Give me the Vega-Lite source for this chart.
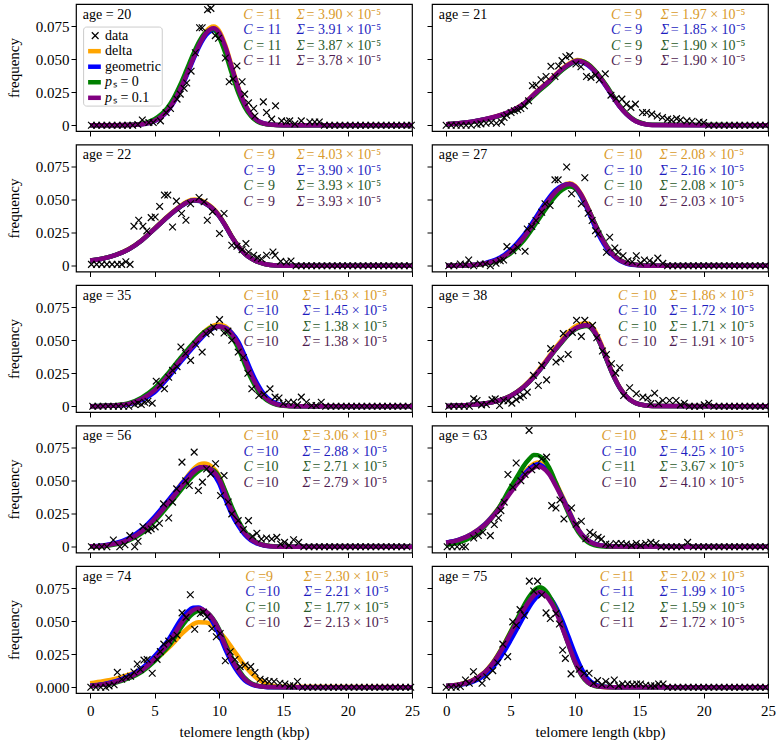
{"$schema":"https://vega.github.io/schema/vega-lite/v6.json","background":"white","padding":{"left":5,"top":1,"right":0,"bottom":0},
"config":{"font":"Liberation Serif","view":{"stroke":"black","strokeWidth":1.2},
"axis":{"grid":false,"domain":false,"tickColor":"black","tickSize":5,"tickWidth":1,"labelFont":"Liberation Serif","labelFontSize":15,"labelColor":"black","titleFont":"Liberation Serif","titleFontSize":15,"titleFontWeight":"normal","titleColor":"black","labelFlush":false,"labelOverlap":false},
"axisX":{"labelPadding":5,"titlePadding":6},"axisY":{"labelPadding":2,"titlePadding":14},
"line":{"strokeWidth":4.5,"interpolate":"monotone"},
"point":{"shape":"M-1,-1L1,1M-1,1L1,-1","size":45,"filled":false,"color":"black","strokeWidth":1.2,"opacity":1},
"text":{"fontSize":14,"align":"left","baseline":"middle","font":"Liberation Serif"}},
"datasets":{
"cv":[
{"p":20,"x":0,"A":0,"B":0,"C":0,"D":0},{"p":20,"x":2,"A":0,"B":0,"C":0,"D":0},{"p":20,"x":3,"A":0.0001,"B":0.0001,"C":0.0002,"D":0.0001},{"p":20,"x":4,"A":0.0007,"B":0.0007,"C":0.0011,"D":0.0007},{"p":20,"x":5,"A":0.0034,"B":0.0032,"C":0.0045,"D":0.0033},{"p":20,"x":6,"A":0.0112,"B":0.0108,"C":0.0131,"D":0.011},{"p":20,"x":6.5,"A":0.0184,"B":0.0176,"C":0.0208,"D":0.018},{"p":20,"x":7,"A":0.0278,"B":0.0268,"C":0.0307,"D":0.0273},{"p":20,"x":7.5,"A":0.0394,"B":0.0378,"C":0.0422,"D":0.0386},{"p":20,"x":8,"A":0.0516,"B":0.0496,"C":0.0539,"D":0.0506},{"p":20,"x":8.5,"A":0.0628,"B":0.0604,"C":0.0641,"D":0.0616},{"p":20,"x":9,"A":0.0712,"B":0.0684,"C":0.0707,"D":0.0698},{"p":20,"x":9.6,"A":0.075,"B":0.072,"C":0.073,"D":0.0735},{"p":20,"x":10,"A":0.0719,"B":0.0691,"C":0.0672,"D":0.0705},{"p":20,"x":10.5,"A":0.0607,"B":0.0583,"C":0.0548,"D":0.0595},{"p":20,"x":11,"A":0.0448,"B":0.043,"C":0.0393,"D":0.0439},{"p":20,"x":11.5,"A":0.0291,"B":0.0279,"C":0.0248,"D":0.0285},{"p":20,"x":12,"A":0.0165,"B":0.0159,"C":0.0138,"D":0.0162},{"p":20,"x":12.5,"A":0.0083,"B":0.0079,"C":0.0067,"D":0.0081},{"p":20,"x":13,"A":0.0036,"B":0.0034,"C":0.0028,"D":0.0035},{"p":20,"x":13.5,"A":0.0013,"B":0.0013,"C":0.001,"D":0.0013},{"p":20,"x":14,"A":0.0005,"B":0.0005,"C":0.0003,"D":0.0005},{"p":20,"x":15,"A":0,"B":0,"C":0,"D":0},{"p":20,"x":25,"A":0,"B":0,"C":0,"D":0},
{"p":21,"x":0,"A":0.0008,"B":0.0008,"C":0.0007,"D":0.0008},{"p":21,"x":1,"A":0.0015,"B":0.0015,"C":0.0014,"D":0.0015},{"p":21,"x":2,"A":0.0027,"B":0.0027,"C":0.0025,"D":0.0027},{"p":21,"x":3,"A":0.0045,"B":0.0045,"C":0.0043,"D":0.0045},{"p":21,"x":4,"A":0.0071,"B":0.0069,"C":0.0067,"D":0.007},{"p":21,"x":5,"A":0.0106,"B":0.0104,"C":0.01,"D":0.0105},{"p":21,"x":6,"A":0.0162,"B":0.0158,"C":0.0152,"D":0.016},{"p":21,"x":7,"A":0.0253,"B":0.0248,"C":0.0241,"D":0.025},{"p":21,"x":8,"A":0.0338,"B":0.0332,"C":0.0326,"D":0.0335},{"p":21,"x":9,"A":0.0429,"B":0.0421,"C":0.0418,"D":0.0425},{"p":21,"x":9.5,"A":0.0465,"B":0.0455,"C":0.0455,"D":0.046},{"p":21,"x":10.2,"A":0.0495,"B":0.0485,"C":0.0489,"D":0.049},{"p":21,"x":10.5,"A":0.049,"B":0.048,"C":0.0487,"D":0.0485},{"p":21,"x":11,"A":0.0465,"B":0.0455,"C":0.0465,"D":0.046},{"p":21,"x":11.5,"A":0.0419,"B":0.0411,"C":0.0421,"D":0.0415},{"p":21,"x":12,"A":0.0359,"B":0.0351,"C":0.0362,"D":0.0355},{"p":21,"x":12.5,"A":0.0288,"B":0.0282,"C":0.0293,"D":0.0285},{"p":21,"x":13,"A":0.0212,"B":0.0208,"C":0.0218,"D":0.021},{"p":21,"x":13.5,"A":0.0141,"B":0.0139,"C":0.0147,"D":0.014},{"p":21,"x":14,"A":0.0086,"B":0.0084,"C":0.009,"D":0.0085},{"p":21,"x":14.5,"A":0.0045,"B":0.0045,"C":0.0049,"D":0.0045},{"p":21,"x":15,"A":0.002,"B":0.002,"C":0.0023,"D":0.002},{"p":21,"x":15.5,"A":0.0007,"B":0.0007,"C":0.0008,"D":0.0007},{"p":21,"x":16,"A":0.0002,"B":0.0002,"C":0.0003,"D":0.0002},{"p":21,"x":25,"A":0,"B":0,"C":0,"D":0},
{"p":22,"x":0,"A":0.004,"B":0.004,"C":0.004,"D":0.004},{"p":22,"x":1,"A":0.0056,"B":0.0055,"C":0.0055,"D":0.0055},{"p":22,"x":2,"A":0.0083,"B":0.0082,"C":0.0082,"D":0.0082},{"p":22,"x":3,"A":0.0127,"B":0.0124,"C":0.0125,"D":0.0125},{"p":22,"x":4,"A":0.0194,"B":0.0191,"C":0.0192,"D":0.0192},{"p":22,"x":5,"A":0.0283,"B":0.0279,"C":0.028,"D":0.028},{"p":22,"x":6,"A":0.0374,"B":0.0368,"C":0.037,"D":0.037},{"p":22,"x":7,"A":0.0453,"B":0.0446,"C":0.0448,"D":0.0448},{"p":22,"x":7.5,"A":0.0486,"B":0.0478,"C":0.048,"D":0.048},{"p":22,"x":8.1,"A":0.0503,"B":0.0495,"C":0.0497,"D":0.0497},{"p":22,"x":8.5,"A":0.0499,"B":0.0491,"C":0.0493,"D":0.0493},{"p":22,"x":9,"A":0.0476,"B":0.0468,"C":0.047,"D":0.047},{"p":22,"x":9.5,"A":0.044,"B":0.0433,"C":0.0435,"D":0.0435},{"p":22,"x":10,"A":0.0385,"B":0.0378,"C":0.038,"D":0.038},{"p":22,"x":10.5,"A":0.0309,"B":0.0303,"C":0.0305,"D":0.0305},{"p":22,"x":11,"A":0.0223,"B":0.0219,"C":0.022,"D":0.022},{"p":22,"x":11.5,"A":0.015,"B":0.0147,"C":0.0148,"D":0.0148},{"p":22,"x":12,"A":0.0093,"B":0.0092,"C":0.0092,"D":0.0092},{"p":22,"x":12.5,"A":0.0056,"B":0.0055,"C":0.0055,"D":0.0055},{"p":22,"x":13,"A":0.003,"B":0.003,"C":0.003,"D":0.003},{"p":22,"x":13.5,"A":0.0015,"B":0.0015,"C":0.0015,"D":0.0015},{"p":22,"x":14,"A":0.0006,"B":0.0006,"C":0.0006,"D":0.0006},{"p":22,"x":15,"A":0,"B":0,"C":0,"D":0},{"p":22,"x":25,"A":0,"B":0,"C":0,"D":0},
{"p":27,"x":0,"A":0,"B":0,"C":0,"D":0},{"p":27,"x":1,"A":0.0001,"B":0.0001,"C":0.0001,"D":0.0001},{"p":27,"x":2,"A":0.0005,"B":0.0006,"C":0.0004,"D":0.0005},{"p":27,"x":3,"A":0.0017,"B":0.002,"C":0.0014,"D":0.0017},{"p":27,"x":4,"A":0.0045,"B":0.0052,"C":0.0039,"D":0.0045},{"p":27,"x":5,"A":0.0107,"B":0.012,"C":0.0093,"D":0.0106},{"p":27,"x":6,"A":0.0213,"B":0.0228,"C":0.0189,"D":0.0211},{"p":27,"x":7,"A":0.0356,"B":0.0372,"C":0.0326,"D":0.0353},{"p":27,"x":7.5,"A":0.0433,"B":0.0449,"C":0.0399,"D":0.043},{"p":27,"x":8,"A":0.0505,"B":0.0517,"C":0.0468,"D":0.0501},{"p":27,"x":8.5,"A":0.0564,"B":0.0573,"C":0.053,"D":0.056},{"p":27,"x":9,"A":0.0606,"B":0.0607,"C":0.0575,"D":0.0601},{"p":27,"x":9.6,"A":0.0625,"B":0.062,"C":0.0601,"D":0.062},{"p":27,"x":10,"A":0.0608,"B":0.0594,"C":0.0588,"D":0.0603},{"p":27,"x":10.5,"A":0.0541,"B":0.0522,"C":0.0532,"D":0.0537},{"p":27,"x":11,"A":0.0442,"B":0.0421,"C":0.0439,"D":0.0438},{"p":27,"x":11.5,"A":0.033,"B":0.0309,"C":0.0333,"D":0.0327},{"p":27,"x":12,"A":0.0225,"B":0.0207,"C":0.0231,"D":0.0223},{"p":27,"x":12.5,"A":0.0141,"B":0.0128,"C":0.0146,"D":0.014},{"p":27,"x":13,"A":0.0081,"B":0.0072,"C":0.0085,"D":0.008},{"p":27,"x":13.5,"A":0.0042,"B":0.0037,"C":0.0045,"D":0.0042},{"p":27,"x":14,"A":0.002,"B":0.0017,"C":0.0022,"D":0.002},{"p":27,"x":15,"A":0.0004,"B":0.0003,"C":0.0005,"D":0.0004},{"p":27,"x":16,"A":0,"B":0,"C":0,"D":0},{"p":27,"x":25,"A":0,"B":0,"C":0,"D":0},
{"p":35,"x":0,"A":0,"B":0,"C":0,"D":0},{"p":35,"x":1,"A":0.0002,"B":0.0002,"C":0.0003,"D":0.0002},{"p":35,"x":2,"A":0.0006,"B":0.0005,"C":0.0008,"D":0.0006},{"p":35,"x":3,"A":0.0018,"B":0.0015,"C":0.0023,"D":0.0018},{"p":35,"x":4,"A":0.0056,"B":0.0047,"C":0.0065,"D":0.0055},{"p":35,"x":5,"A":0.0123,"B":0.0106,"C":0.0137,"D":0.012},{"p":35,"x":6,"A":0.0231,"B":0.021,"C":0.0243,"D":0.0225},{"p":35,"x":7,"A":0.0356,"B":0.0333,"C":0.0365,"D":0.0347},{"p":35,"x":7.5,"A":0.0415,"B":0.0391,"C":0.0422,"D":0.0405},{"p":35,"x":8,"A":0.0472,"B":0.0447,"C":0.0477,"D":0.046},{"p":35,"x":8.5,"A":0.0528,"B":0.0503,"C":0.0531,"D":0.0515},{"p":35,"x":9,"A":0.0576,"B":0.0553,"C":0.0572,"D":0.0562},{"p":35,"x":9.5,"A":0.0609,"B":0.0589,"C":0.0599,"D":0.0594},{"p":35,"x":10,"A":0.062,"B":0.0604,"C":0.0603,"D":0.0605},{"p":35,"x":10.5,"A":0.0605,"B":0.0595,"C":0.0582,"D":0.059},{"p":35,"x":11,"A":0.0559,"B":0.0556,"C":0.0527,"D":0.0545},{"p":35,"x":11.5,"A":0.0482,"B":0.0491,"C":0.0441,"D":0.047},{"p":35,"x":12,"A":0.0364,"B":0.0384,"C":0.0322,"D":0.0355},{"p":35,"x":12.5,"A":0.0246,"B":0.0268,"C":0.0212,"D":0.024},{"p":35,"x":13,"A":0.0149,"B":0.0168,"C":0.0124,"D":0.0145},{"p":35,"x":13.5,"A":0.0077,"B":0.0091,"C":0.0063,"D":0.0075},{"p":35,"x":14,"A":0.0036,"B":0.0044,"C":0.0029,"D":0.0035},{"p":35,"x":14.5,"A":0.0014,"B":0.0019,"C":0.0011,"D":0.0014},{"p":35,"x":15,"A":0.0005,"B":0.0007,"C":0.0004,"D":0.0005},{"p":35,"x":16,"A":0,"B":0,"C":0,"D":0},{"p":35,"x":25,"A":0,"B":0,"C":0,"D":0},
{"p":38,"x":0,"A":0.0002,"B":0.0002,"C":0.0002,"D":0.0002},{"p":38,"x":1,"A":0.0006,"B":0.0006,"C":0.0006,"D":0.0006},{"p":38,"x":2,"A":0.0012,"B":0.0012,"C":0.0012,"D":0.0012},{"p":38,"x":3,"A":0.0021,"B":0.002,"C":0.002,"D":0.002},{"p":38,"x":4,"A":0.0041,"B":0.004,"C":0.004,"D":0.004},{"p":38,"x":5,"A":0.008,"B":0.0078,"C":0.0077,"D":0.0078},{"p":38,"x":6,"A":0.0149,"B":0.0144,"C":0.0144,"D":0.0145},{"p":38,"x":7,"A":0.0251,"B":0.0244,"C":0.0243,"D":0.0245},{"p":38,"x":7.5,"A":0.0313,"B":0.0303,"C":0.0302,"D":0.0305},{"p":38,"x":8,"A":0.0379,"B":0.0368,"C":0.0366,"D":0.037},{"p":38,"x":8.5,"A":0.0444,"B":0.0431,"C":0.0429,"D":0.0433},{"p":38,"x":9,"A":0.0505,"B":0.0491,"C":0.0488,"D":0.0493},{"p":38,"x":9.5,"A":0.0562,"B":0.0545,"C":0.0543,"D":0.0548},{"p":38,"x":10,"A":0.0603,"B":0.0585,"C":0.0582,"D":0.0588},{"p":38,"x":10.5,"A":0.0624,"B":0.0606,"C":0.0603,"D":0.0609},{"p":38,"x":10.9,"A":0.063,"B":0.0612,"C":0.0609,"D":0.0615},{"p":38,"x":11.5,"A":0.0582,"B":0.0565,"C":0.0562,"D":0.0568},{"p":38,"x":12,"A":0.0483,"B":0.0469,"C":0.0466,"D":0.0471},{"p":38,"x":12.5,"A":0.0356,"B":0.0345,"C":0.0344,"D":0.0347},{"p":38,"x":13,"A":0.0236,"B":0.0229,"C":0.0228,"D":0.023},{"p":38,"x":13.5,"A":0.014,"B":0.0136,"C":0.0136,"D":0.0137},{"p":38,"x":14,"A":0.0075,"B":0.0073,"C":0.0072,"D":0.0073},{"p":38,"x":14.5,"A":0.0036,"B":0.0035,"C":0.0035,"D":0.0035},{"p":38,"x":15,"A":0.0015,"B":0.0015,"C":0.0015,"D":0.0015},{"p":38,"x":16,"A":0.0002,"B":0.0002,"C":0.0002,"D":0.0002},{"p":38,"x":25,"A":0,"B":0,"C":0,"D":0},
{"p":56,"x":0,"A":0.0003,"B":0.0003,"C":0.0002,"D":0.0003},{"p":56,"x":1,"A":0.0008,"B":0.001,"C":0.0006,"D":0.0008},{"p":56,"x":2,"A":0.0024,"B":0.0028,"C":0.0019,"D":0.0023},{"p":56,"x":3,"A":0.0057,"B":0.0064,"C":0.0047,"D":0.0055},{"p":56,"x":4,"A":0.012,"B":0.013,"C":0.0102,"D":0.0115},{"p":56,"x":5,"A":0.0219,"B":0.0228,"C":0.0193,"D":0.021},{"p":56,"x":6,"A":0.034,"B":0.0343,"C":0.0305,"D":0.0325},{"p":56,"x":6.5,"A":0.0402,"B":0.0404,"C":0.0364,"D":0.0385},{"p":56,"x":7,"A":0.0467,"B":0.0464,"C":0.0425,"D":0.0447},{"p":56,"x":7.5,"A":0.0528,"B":0.0522,"C":0.0483,"D":0.0505},{"p":56,"x":8,"A":0.0587,"B":0.0574,"C":0.0539,"D":0.0562},{"p":56,"x":8.5,"A":0.0625,"B":0.0602,"C":0.058,"D":0.0598},{"p":56,"x":8.85,"A":0.0632,"B":0.0604,"C":0.0598,"D":0.0605},{"p":56,"x":9.5,"A":0.0604,"B":0.0563,"C":0.0584,"D":0.0578},{"p":56,"x":10,"A":0.0538,"B":0.0485,"C":0.0532,"D":0.0515},{"p":56,"x":10.5,"A":0.0413,"B":0.0362,"C":0.0422,"D":0.0395},{"p":56,"x":11,"A":0.0287,"B":0.0247,"C":0.0302,"D":0.0275},{"p":56,"x":11.5,"A":0.0188,"B":0.016,"C":0.0198,"D":0.018},{"p":56,"x":12,"A":0.011,"B":0.0092,"C":0.0118,"D":0.0105},{"p":56,"x":12.5,"A":0.0057,"B":0.0047,"C":0.0062,"D":0.0055},{"p":56,"x":13,"A":0.0028,"B":0.0023,"C":0.0031,"D":0.0027},{"p":56,"x":13.5,"A":0.0011,"B":0.0009,"C":0.0013,"D":0.0011},{"p":56,"x":14,"A":0.0004,"B":0.0003,"C":0.0005,"D":0.0004},{"p":56,"x":15,"A":0,"B":0,"C":0,"D":0},{"p":56,"x":25,"A":0,"B":0,"C":0,"D":0},
{"p":63,"x":0,"A":0.003,"B":0.0031,"C":0.0015,"D":0.003},{"p":63,"x":1,"A":0.0054,"B":0.0053,"C":0.0033,"D":0.0052},{"p":63,"x":2,"A":0.0099,"B":0.0097,"C":0.0075,"D":0.0095},{"p":63,"x":3,"A":0.0172,"B":0.0169,"C":0.0155,"D":0.0165},{"p":63,"x":4,"A":0.0284,"B":0.0279,"C":0.028,"D":0.0272},{"p":63,"x":5,"A":0.0429,"B":0.042,"C":0.045,"D":0.041},{"p":63,"x":5.5,"A":0.0497,"B":0.0487,"C":0.053,"D":0.0475},{"p":63,"x":6,"A":0.0555,"B":0.0543,"C":0.061,"D":0.053},{"p":63,"x":6.5,"A":0.0606,"B":0.0594,"C":0.067,"D":0.0578},{"p":63,"x":6.8,"A":0.0628,"B":0.0615,"C":0.0697,"D":0.06},{"p":63,"x":7.1,"A":0.064,"B":0.0625,"C":0.0695,"D":0.061},{"p":63,"x":7.5,"A":0.0626,"B":0.061,"C":0.067,"D":0.0598},{"p":63,"x":8,"A":0.0575,"B":0.0559,"C":0.06,"D":0.055},{"p":63,"x":8.5,"A":0.0489,"B":0.0477,"C":0.049,"D":0.0465},{"p":63,"x":9,"A":0.0389,"B":0.0379,"C":0.037,"D":0.037},{"p":63,"x":9.5,"A":0.0284,"B":0.0277,"C":0.0255,"D":0.027},{"p":63,"x":10,"A":0.0179,"B":0.0174,"C":0.0155,"D":0.017},{"p":63,"x":10.5,"A":0.01,"B":0.0097,"C":0.008,"D":0.0095},{"p":63,"x":11,"A":0.005,"B":0.0049,"C":0.0035,"D":0.0048},{"p":63,"x":11.5,"A":0.0023,"B":0.0023,"C":0.0013,"D":0.0022},{"p":63,"x":12,"A":0.001,"B":0.001,"C":0.0004,"D":0.001},{"p":63,"x":13,"A":0.0001,"B":0.0001,"C":0,"D":0.0001},{"p":63,"x":25,"A":0,"B":0,"C":0,"D":0},
{"p":74,"x":0,"A":0.003,"B":0.0012,"C":0.0009,"D":0.001},{"p":74,"x":1,"A":0.0045,"B":0.0023,"C":0.0018,"D":0.002},{"p":74,"x":2,"A":0.0065,"B":0.0046,"C":0.0036,"D":0.004},{"p":74,"x":3,"A":0.0095,"B":0.0084,"C":0.0068,"D":0.0075},{"p":74,"x":4,"A":0.0135,"B":0.0142,"C":0.0117,"D":0.0128},{"p":74,"x":5,"A":0.0205,"B":0.0235,"C":0.0198,"D":0.0215},{"p":74,"x":5.5,"A":0.0245,"B":0.0291,"C":0.0249,"D":0.0268},{"p":74,"x":6,"A":0.029,"B":0.0348,"C":0.03,"D":0.0322},{"p":74,"x":6.5,"A":0.034,"B":0.0427,"C":0.0368,"D":0.0395},{"p":74,"x":7,"A":0.0395,"B":0.0508,"C":0.0446,"D":0.0475},{"p":74,"x":7.5,"A":0.044,"B":0.0567,"C":0.0512,"D":0.054},{"p":74,"x":8,"A":0.0478,"B":0.0603,"C":0.0561,"D":0.0585},{"p":74,"x":8.4,"A":0.0493,"B":0.0605,"C":0.0579,"D":0.0597},{"p":74,"x":9,"A":0.0492,"B":0.0566,"C":0.0569,"D":0.0575},{"p":74,"x":9.5,"A":0.047,"B":0.0499,"C":0.0524,"D":0.0522},{"p":74,"x":10,"A":0.0425,"B":0.0404,"C":0.0442,"D":0.0435},{"p":74,"x":10.5,"A":0.0368,"B":0.0288,"C":0.0328,"D":0.0315},{"p":74,"x":11,"A":0.03,"B":0.0188,"C":0.0224,"D":0.021},{"p":74,"x":11.5,"A":0.0232,"B":0.0111,"C":0.0139,"D":0.0128},{"p":74,"x":12,"A":0.0163,"B":0.0053,"C":0.0071,"D":0.0063},{"p":74,"x":12.5,"A":0.0108,"B":0.0022,"C":0.0031,"D":0.0027},{"p":74,"x":13,"A":0.0065,"B":0.0008,"C":0.0012,"D":0.001},{"p":74,"x":13.5,"A":0.0035,"B":0.0003,"C":0.0005,"D":0.0004},{"p":74,"x":14,"A":0.0016,"B":0,"C":0.0001,"D":0.0001},{"p":74,"x":15,"A":0.0003,"B":0,"C":0,"D":0},{"p":74,"x":25,"A":0,"B":0,"C":0,"D":0},
{"p":75,"x":0,"A":0.001,"B":0.0009,"C":0.001,"D":0.001},{"p":75,"x":1,"A":0.0021,"B":0.0017,"C":0.002,"D":0.002},{"p":75,"x":2,"A":0.005,"B":0.0038,"C":0.0048,"D":0.0048},{"p":75,"x":3,"A":0.0116,"B":0.0093,"C":0.0112,"D":0.0112},{"p":75,"x":3.5,"A":0.0171,"B":0.014,"C":0.0167,"D":0.0165},{"p":75,"x":4,"A":0.0243,"B":0.0196,"C":0.024,"D":0.0235},{"p":75,"x":4.5,"A":0.0326,"B":0.0271,"C":0.0324,"D":0.0315},{"p":75,"x":5,"A":0.0419,"B":0.0355,"C":0.0418,"D":0.0405},{"p":75,"x":5.5,"A":0.0512,"B":0.0443,"C":0.0515,"D":0.0495},{"p":75,"x":6,"A":0.0605,"B":0.0532,"C":0.0612,"D":0.0585},{"p":75,"x":6.5,"A":0.0683,"B":0.0617,"C":0.0693,"D":0.066},{"p":75,"x":7,"A":0.0737,"B":0.0682,"C":0.0748,"D":0.0712},{"p":75,"x":7.25,"A":0.0747,"B":0.0703,"C":0.0759,"D":0.0722},{"p":75,"x":7.5,"A":0.074,"B":0.0711,"C":0.0751,"D":0.0715},{"p":75,"x":8,"A":0.0688,"B":0.0685,"C":0.0695,"D":0.0665},{"p":75,"x":8.5,"A":0.06,"B":0.0614,"C":0.0598,"D":0.058},{"p":75,"x":9,"A":0.0471,"B":0.0509,"C":0.0462,"D":0.0455},{"p":75,"x":9.5,"A":0.0336,"B":0.0384,"C":0.0325,"D":0.0325},{"p":75,"x":10,"A":0.0202,"B":0.0256,"C":0.019,"D":0.0195},{"p":75,"x":10.5,"A":0.0101,"B":0.0144,"C":0.0093,"D":0.0098},{"p":75,"x":11,"A":0.0039,"B":0.0064,"C":0.0035,"D":0.0038},{"p":75,"x":11.5,"A":0.0013,"B":0.0025,"C":0.0011,"D":0.0013},{"p":75,"x":12,"A":0.0004,"B":0.0008,"C":0.0003,"D":0.0004},{"p":75,"x":13,"A":0,"B":0,"C":0,"D":0},{"p":75,"x":25,"A":0,"B":0,"C":0,"D":0}
],
"pt":[
{"p":20,"x":0.1,"y":0},{"p":20,"x":0.5,"y":0},{"p":20,"x":0.9,"y":0},{"p":20,"x":1.3,"y":0},{"p":20,"x":1.7,"y":0},{"p":20,"x":2.1,"y":0},{"p":20,"x":2.5,"y":0},{"p":20,"x":2.9,"y":0},{"p":20,"x":3.3,"y":0},{"p":20,"x":3.7,"y":0.0005},{"p":20,"x":4.05,"y":0.004},{"p":20,"x":4.56,"y":0.002},{"p":20,"x":4.9,"y":0.002},{"p":20,"x":5.46,"y":0.0033},{"p":20,"x":5.9,"y":0.0096},{"p":20,"x":6.24,"y":0.0127},{"p":20,"x":6.75,"y":0.0198},{"p":20,"x":7,"y":0.0236},{"p":20,"x":7.3,"y":0.028},{"p":20,"x":7.5,"y":0.032},{"p":20,"x":7.84,"y":0.041},{"p":20,"x":8.17,"y":0.055},{"p":20,"x":8.5,"y":0.074},{"p":20,"x":8.7,"y":0.074},{"p":20,"x":9.12,"y":0.0877},{"p":20,"x":9.38,"y":0.0887},{"p":20,"x":9.72,"y":0.068},{"p":20,"x":9.97,"y":0.066},{"p":20,"x":10.5,"y":0.051},{"p":20,"x":10.8,"y":0.033},{"p":20,"x":11.1,"y":0.035},{"p":20,"x":11.4,"y":0.045},{"p":20,"x":11.8,"y":0.033},{"p":20,"x":12,"y":0.0236},{"p":20,"x":12.3,"y":0.017},{"p":20,"x":12.7,"y":0.0127},{"p":20,"x":12.8,"y":0.007},{"p":20,"x":13.45,"y":0.0177},{"p":20,"x":13.7,"y":0.0096},{"p":20,"x":14.1,"y":0.0046},{"p":20,"x":14.4,"y":0.0147},{"p":20,"x":14.87,"y":0.0033},{"p":20,"x":15.26,"y":0.0028},{"p":20,"x":15.5,"y":0.0033},{"p":20,"x":15.9,"y":0.001},{"p":20,"x":16.4,"y":0.0033},{"p":20,"x":17.06,"y":0.0025},{"p":20,"x":17.45,"y":0.0025},{"p":20,"x":17.8,"y":0.0025},{"p":20,"x":18.2,"y":0},{"p":20,"x":18.6,"y":0},{"p":20,"x":19,"y":0},{"p":20,"x":19.4,"y":0},{"p":20,"x":19.8,"y":0},{"p":20,"x":20.2,"y":0},{"p":20,"x":20.6,"y":0},{"p":20,"x":21,"y":0},{"p":20,"x":21.4,"y":0},{"p":20,"x":21.8,"y":0},{"p":20,"x":22.2,"y":0},{"p":20,"x":22.6,"y":0},{"p":20,"x":23,"y":0},{"p":20,"x":23.4,"y":0},{"p":20,"x":23.8,"y":0},{"p":20,"x":24.2,"y":0},{"p":20,"x":24.6,"y":0},{"p":20,"x":24.95,"y":0},{"p":20,"x":0.39,"y":0.068},
{"p":21,"x":0,"y":0},{"p":21,"x":0.39,"y":0},{"p":21,"x":0.78,"y":0},{"p":21,"x":1.16,"y":0},{"p":21,"x":1.55,"y":0},{"p":21,"x":1.94,"y":0},{"p":21,"x":2.4,"y":0.0005},{"p":21,"x":2.7,"y":0.001},{"p":21,"x":3.1,"y":0.0015},{"p":21,"x":3.5,"y":0.002},{"p":21,"x":3.9,"y":0.0015},{"p":21,"x":4.3,"y":0.0025},{"p":21,"x":4.5,"y":0.0058},{"p":21,"x":4.7,"y":0.0076},{"p":21,"x":5.04,"y":0.0096},{"p":21,"x":5.3,"y":0.011},{"p":21,"x":5.56,"y":0.0117},{"p":21,"x":5.8,"y":0.0127},{"p":21,"x":6.08,"y":0.0147},{"p":21,"x":6.4,"y":0.0185},{"p":21,"x":6.7,"y":0.03},{"p":21,"x":6.98,"y":0.0305},{"p":21,"x":7.37,"y":0.0345},{"p":21,"x":7.76,"y":0.037},{"p":21,"x":8.14,"y":0.0447},{"p":21,"x":8.45,"y":0.037},{"p":21,"x":8.74,"y":0.045},{"p":21,"x":9,"y":0.049},{"p":21,"x":9.3,"y":0.052},{"p":21,"x":9.6,"y":0.0528},{"p":21,"x":10.08,"y":0.0464},{"p":21,"x":10.47,"y":0.0444},{"p":21,"x":10.9,"y":0.037},{"p":21,"x":11.25,"y":0.0363},{"p":21,"x":11.6,"y":0.038},{"p":21,"x":11.9,"y":0.0345},{"p":21,"x":12.36,"y":0.039},{"p":21,"x":12.8,"y":0.0228},{"p":21,"x":13.2,"y":0.0203},{"p":21,"x":13.65,"y":0.0198},{"p":21,"x":14,"y":0.016},{"p":21,"x":14.35,"y":0.0135},{"p":21,"x":14.7,"y":0.016},{"p":21,"x":15.25,"y":0.0096},{"p":21,"x":15.56,"y":0.0096},{"p":21,"x":15.97,"y":0.0084},{"p":21,"x":16.4,"y":0.007},{"p":21,"x":16.8,"y":0.0058},{"p":21,"x":17.2,"y":0.0046},{"p":21,"x":17.5,"y":0.004},{"p":21,"x":17.9,"y":0.005},{"p":21,"x":18.2,"y":0.004},{"p":21,"x":18.7,"y":0.0033},{"p":21,"x":19.1,"y":0.003},{"p":21,"x":19.65,"y":0.0025},{"p":21,"x":20,"y":0.002},{"p":21,"x":20.4,"y":0},{"p":21,"x":20.8,"y":0},{"p":21,"x":21.2,"y":0},{"p":21,"x":21.6,"y":0},{"p":21,"x":22,"y":0},{"p":21,"x":22.4,"y":0},{"p":21,"x":22.8,"y":0},{"p":21,"x":23.2,"y":0},{"p":21,"x":23.6,"y":0},{"p":21,"x":24,"y":0},{"p":21,"x":24.4,"y":0},{"p":21,"x":24.8,"y":0},
{"p":22,"x":0.1,"y":0.001},{"p":22,"x":0.5,"y":0.001},{"p":22,"x":0.9,"y":0.001},{"p":22,"x":1.3,"y":0.001},{"p":22,"x":1.7,"y":0.001},{"p":22,"x":2.1,"y":0.001},{"p":22,"x":2.45,"y":0.001},{"p":22,"x":2.77,"y":0.003},{"p":22,"x":3.1,"y":0.001},{"p":22,"x":3.4,"y":0.03},{"p":22,"x":3.77,"y":0.0345},{"p":22,"x":4.1,"y":0.03},{"p":22,"x":4.4,"y":0.0264},{"p":22,"x":4.74,"y":0.0365},{"p":22,"x":5.05,"y":0.037},{"p":22,"x":5.4,"y":0.045},{"p":22,"x":5.77,"y":0.0536},{"p":22,"x":6.03,"y":0.0536},{"p":22,"x":6.4,"y":0.0294},{"p":22,"x":6.7,"y":0.049},{"p":22,"x":7.1,"y":0.0396},{"p":22,"x":7.44,"y":0.0345},{"p":22,"x":7.8,"y":0.047},{"p":22,"x":8.46,"y":0.0518},{"p":22,"x":8.85,"y":0.0485},{"p":22,"x":9.1,"y":0.0345},{"p":22,"x":9.5,"y":0.041},{"p":22,"x":10.05,"y":0.0244},{"p":22,"x":10.4,"y":0.0396},{"p":22,"x":11,"y":0.0155},{"p":22,"x":11.4,"y":0.0147},{"p":22,"x":11.8,"y":0.0122},{"p":22,"x":12.1,"y":0.0168},{"p":22,"x":12.3,"y":0.0104},{"p":22,"x":12.7,"y":0.0079},{"p":22,"x":13,"y":0.0061},{"p":22,"x":13.3,"y":0.0053},{"p":22,"x":13.7,"y":0.0079},{"p":22,"x":14.2,"y":0.0104},{"p":22,"x":14.36,"y":0.0079},{"p":22,"x":14.8,"y":0.0033},{"p":22,"x":15.25,"y":0.0028},{"p":22,"x":15.6,"y":0.0036},{"p":22,"x":16,"y":0},{"p":22,"x":16.4,"y":0},{"p":22,"x":16.8,"y":0},{"p":22,"x":17.2,"y":0},{"p":22,"x":17.6,"y":0},{"p":22,"x":18,"y":0},{"p":22,"x":18.4,"y":0},{"p":22,"x":18.8,"y":0},{"p":22,"x":19.2,"y":0},{"p":22,"x":19.6,"y":0},{"p":22,"x":20,"y":0},{"p":22,"x":20.4,"y":0},{"p":22,"x":20.8,"y":0},{"p":22,"x":21.2,"y":0},{"p":22,"x":21.6,"y":0},{"p":22,"x":22,"y":0},{"p":22,"x":22.4,"y":0},{"p":22,"x":22.8,"y":0},{"p":22,"x":23.2,"y":0},{"p":22,"x":23.6,"y":0},{"p":22,"x":24,"y":0},{"p":22,"x":24.4,"y":0},{"p":22,"x":24.8,"y":0},
{"p":27,"x":0.2,"y":0},{"p":27,"x":0.6,"y":0},{"p":27,"x":1.1,"y":0.0013},{"p":27,"x":1.5,"y":0.0008},{"p":27,"x":1.75,"y":0.0043},{"p":27,"x":2.14,"y":0},{"p":27,"x":2.65,"y":0.0013},{"p":27,"x":3.04,"y":0.0013},{"p":27,"x":3.43,"y":0},{"p":27,"x":3.87,"y":0.0018},{"p":27,"x":4.2,"y":0.0038},{"p":27,"x":4.46,"y":0.0043},{"p":27,"x":4.72,"y":0.0145},{"p":27,"x":5.18,"y":0.0114},{"p":27,"x":5.54,"y":0.014},{"p":27,"x":6.13,"y":0.0109},{"p":27,"x":6.3,"y":0.0279},{"p":27,"x":6.65,"y":0.0297},{"p":27,"x":6.98,"y":0.0343},{"p":27,"x":7.42,"y":0.0406},{"p":27,"x":7.68,"y":0.047},{"p":27,"x":8.07,"y":0.0457},{"p":27,"x":8.45,"y":0.0652},{"p":27,"x":8.7,"y":0.0652},{"p":27,"x":9.36,"y":0.0749},{"p":27,"x":9.74,"y":0.0546},{"p":27,"x":10.5,"y":0.047},{"p":27,"x":10.77,"y":0.0668},{"p":27,"x":11.03,"y":0.0398},{"p":27,"x":11.34,"y":0.0343},{"p":27,"x":11.6,"y":0.0266},{"p":27,"x":11.8,"y":0.0241},{"p":27,"x":12.45,"y":0.0102},{"p":27,"x":12.7,"y":0.0216},{"p":27,"x":13.1,"y":0.0135},{"p":27,"x":13.35,"y":0.0102},{"p":27,"x":13.74,"y":0.0076},{"p":27,"x":14.12,"y":0.0038},{"p":27,"x":14.45,"y":0.003},{"p":27,"x":14.77,"y":0.0076},{"p":27,"x":15.1,"y":0.002},{"p":27,"x":15.4,"y":0.0043},{"p":27,"x":15.8,"y":0.0038},{"p":27,"x":16.1,"y":0.002},{"p":27,"x":16.44,"y":0.0058},{"p":27,"x":16.83,"y":0.0018},{"p":27,"x":17.2,"y":0},{"p":27,"x":17.6,"y":0},{"p":27,"x":18,"y":0},{"p":27,"x":18.4,"y":0},{"p":27,"x":18.8,"y":0},{"p":27,"x":19.2,"y":0},{"p":27,"x":19.6,"y":0},{"p":27,"x":20,"y":0},{"p":27,"x":20.4,"y":0},{"p":27,"x":20.8,"y":0},{"p":27,"x":21.2,"y":0},{"p":27,"x":21.6,"y":0},{"p":27,"x":22,"y":0},{"p":27,"x":22.4,"y":0},{"p":27,"x":22.8,"y":0},{"p":27,"x":23.2,"y":0},{"p":27,"x":23.6,"y":0},{"p":27,"x":24,"y":0},{"p":27,"x":24.4,"y":0},{"p":27,"x":24.8,"y":0},
{"p":35,"x":0.2,"y":0},{"p":35,"x":0.6,"y":0},{"p":35,"x":1,"y":0},{"p":35,"x":1.4,"y":0},{"p":35,"x":1.8,"y":0},{"p":35,"x":2.2,"y":0},{"p":35,"x":2.6,"y":0},{"p":35,"x":3,"y":0},{"p":35,"x":3.46,"y":0.0013},{"p":35,"x":3.72,"y":0.0023},{"p":35,"x":3.97,"y":0.0013},{"p":35,"x":4.23,"y":0.003},{"p":35,"x":4.49,"y":0.0038},{"p":35,"x":4.82,"y":0.0023},{"p":35,"x":5.13,"y":0.019},{"p":35,"x":5.45,"y":0.016},{"p":35,"x":5.77,"y":0.0132},{"p":35,"x":6.1,"y":0.022},{"p":35,"x":6.4,"y":0.0272},{"p":35,"x":6.75,"y":0.03},{"p":35,"x":7.05,"y":0.045},{"p":35,"x":7.42,"y":0.04},{"p":35,"x":7.8,"y":0.0348},{"p":35,"x":8.2,"y":0.047},{"p":35,"x":8.7,"y":0.0411},{"p":35,"x":9,"y":0.055},{"p":35,"x":9.36,"y":0.0563},{"p":35,"x":9.6,"y":0.06},{"p":35,"x":10.05,"y":0.0657},{"p":35,"x":10.4,"y":0.0556},{"p":35,"x":10.7,"y":0.057},{"p":35,"x":11,"y":0.05},{"p":35,"x":11.5,"y":0.0411},{"p":35,"x":11.9,"y":0.037},{"p":35,"x":12.25,"y":0.025},{"p":35,"x":12.56,"y":0.0132},{"p":35,"x":13.1,"y":0.0081},{"p":35,"x":13.5,"y":0.009},{"p":35,"x":13.97,"y":0.0132},{"p":35,"x":14.36,"y":0.0069},{"p":35,"x":14.67,"y":0.0063},{"p":35,"x":15,"y":0.002},{"p":35,"x":15.4,"y":0.003},{"p":35,"x":15.8,"y":0.003},{"p":35,"x":16.1,"y":0.001},{"p":35,"x":16.4,"y":0.0069},{"p":35,"x":16.8,"y":0.003},{"p":35,"x":17.2,"y":0.0005},{"p":35,"x":17.55,"y":0.0005},{"p":35,"x":17.95,"y":0.003},{"p":35,"x":18.3,"y":0},{"p":35,"x":18.7,"y":0},{"p":35,"x":19.1,"y":0},{"p":35,"x":19.5,"y":0},{"p":35,"x":19.9,"y":0},{"p":35,"x":20.3,"y":0},{"p":35,"x":20.7,"y":0},{"p":35,"x":21.1,"y":0},{"p":35,"x":21.5,"y":0},{"p":35,"x":21.9,"y":0},{"p":35,"x":22.3,"y":0},{"p":35,"x":22.7,"y":0},{"p":35,"x":23.1,"y":0},{"p":35,"x":23.5,"y":0},{"p":35,"x":23.9,"y":0},{"p":35,"x":24.3,"y":0},{"p":35,"x":24.7,"y":0},
{"p":38,"x":0.2,"y":0},{"p":38,"x":0.6,"y":0},{"p":38,"x":1,"y":0},{"p":38,"x":1.4,"y":0},{"p":38,"x":1.8,"y":0},{"p":38,"x":2.14,"y":0.0056},{"p":38,"x":2.4,"y":0.0043},{"p":38,"x":2.75,"y":0.001},{"p":38,"x":3.12,"y":0.0013},{"p":38,"x":3.56,"y":0.0048},{"p":38,"x":3.81,"y":0.0056},{"p":38,"x":4.15,"y":0.0005},{"p":38,"x":4.46,"y":0.0043},{"p":38,"x":4.8,"y":0.004},{"p":38,"x":5.1,"y":0.0023},{"p":38,"x":5.45,"y":0.005},{"p":38,"x":5.75,"y":0.0069},{"p":38,"x":6,"y":0.0081},{"p":38,"x":6.3,"y":0.0107},{"p":38,"x":6.78,"y":0.0234},{"p":38,"x":7.16,"y":0.0157},{"p":38,"x":7.42,"y":0.031},{"p":38,"x":7.8,"y":0.02},{"p":38,"x":8.12,"y":0.0437},{"p":38,"x":8.53,"y":0.0335},{"p":38,"x":8.9,"y":0.036},{"p":38,"x":9.1,"y":0.0551},{"p":38,"x":9.48,"y":0.0393},{"p":38,"x":9.8,"y":0.056},{"p":38,"x":10.13,"y":0.0652},{"p":38,"x":10.5,"y":0.053},{"p":38,"x":10.77,"y":0.0652},{"p":38,"x":11.37,"y":0.0614},{"p":38,"x":11.7,"y":0.052},{"p":38,"x":12.14,"y":0.0419},{"p":38,"x":12.45,"y":0.0393},{"p":38,"x":12.84,"y":0.0322},{"p":38,"x":13.17,"y":0.0251},{"p":38,"x":13.48,"y":0.0292},{"p":38,"x":13.79,"y":0.0081},{"p":38,"x":14.25,"y":0.014},{"p":38,"x":14.77,"y":0.0094},{"p":38,"x":15.28,"y":0.0069},{"p":38,"x":15.67,"y":0.0063},{"p":38,"x":15.9,"y":0.002},{"p":38,"x":16.19,"y":0.0099},{"p":38,"x":16.5,"y":0.002},{"p":38,"x":16.83,"y":0.0043},{"p":38,"x":17.35,"y":0.0043},{"p":38,"x":17.86,"y":0.0043},{"p":38,"x":18.2,"y":0.001},{"p":38,"x":18.5,"y":0.0023},{"p":38,"x":18.9,"y":0},{"p":38,"x":19.3,"y":0},{"p":38,"x":19.7,"y":0},{"p":38,"x":20.05,"y":0.001},{"p":38,"x":20.4,"y":0.0023},{"p":38,"x":20.8,"y":0},{"p":38,"x":21.2,"y":0},{"p":38,"x":21.6,"y":0},{"p":38,"x":22,"y":0},{"p":38,"x":22.4,"y":0},{"p":38,"x":22.8,"y":0},{"p":38,"x":23.2,"y":0},{"p":38,"x":23.6,"y":0},{"p":38,"x":24,"y":0},{"p":38,"x":24.4,"y":0},{"p":38,"x":24.8,"y":0},
{"p":56,"x":0.1,"y":0},{"p":56,"x":0.5,"y":0},{"p":56,"x":0.9,"y":0},{"p":56,"x":1.3,"y":0},{"p":56,"x":1.8,"y":0.0051},{"p":56,"x":2.3,"y":0},{"p":56,"x":2.7,"y":0.0015},{"p":56,"x":3.08,"y":0.0084},{"p":56,"x":3.46,"y":0},{"p":56,"x":3.72,"y":0.0041},{"p":56,"x":4.1,"y":0.0152},{"p":56,"x":4.5,"y":0.0122},{"p":56,"x":4.74,"y":0.0135},{"p":56,"x":5.05,"y":0.015},{"p":56,"x":5.38,"y":0.0178},{"p":56,"x":5.7,"y":0.0325},{"p":56,"x":6.1,"y":0.0218},{"p":56,"x":6.4,"y":0.0338},{"p":56,"x":6.72,"y":0.0439},{"p":56,"x":7.13,"y":0.0642},{"p":56,"x":7.42,"y":0.05},{"p":56,"x":7.7,"y":0.0464},{"p":56,"x":8.08,"y":0.0718},{"p":56,"x":8.41,"y":0.0426},{"p":56,"x":8.72,"y":0.049},{"p":56,"x":9.05,"y":0.059},{"p":56,"x":9.36,"y":0.0553},{"p":56,"x":9.74,"y":0.063},{"p":56,"x":10.13,"y":0.0388},{"p":56,"x":10.4,"y":0.054},{"p":56,"x":10.72,"y":0.034},{"p":56,"x":11,"y":0.0249},{"p":56,"x":11.5,"y":0.0198},{"p":56,"x":11.9,"y":0.013},{"p":56,"x":12.3,"y":0.0198},{"p":56,"x":12.62,"y":0.008},{"p":56,"x":12.95,"y":0.0102},{"p":56,"x":13.3,"y":0.0058},{"p":56,"x":13.7,"y":0.0066},{"p":56,"x":14.1,"y":0.0058},{"p":56,"x":14.5,"y":0.0071},{"p":56,"x":14.8,"y":0.002},{"p":56,"x":15.1,"y":0.0033},{"p":56,"x":15.45,"y":0.001},{"p":56,"x":15.8,"y":0.0053},{"p":56,"x":16.2,"y":0.0033},{"p":56,"x":16.6,"y":0},{"p":56,"x":17,"y":0},{"p":56,"x":17.4,"y":0},{"p":56,"x":17.8,"y":0},{"p":56,"x":18.2,"y":0},{"p":56,"x":18.6,"y":0},{"p":56,"x":19,"y":0},{"p":56,"x":19.4,"y":0},{"p":56,"x":19.8,"y":0},{"p":56,"x":20.2,"y":0},{"p":56,"x":20.6,"y":0},{"p":56,"x":21,"y":0},{"p":56,"x":21.4,"y":0},{"p":56,"x":21.8,"y":0},{"p":56,"x":22.2,"y":0},{"p":56,"x":22.6,"y":0},{"p":56,"x":23,"y":0},{"p":56,"x":23.4,"y":0},{"p":56,"x":23.8,"y":0},{"p":56,"x":24.2,"y":0},{"p":56,"x":24.6,"y":0},
{"p":63,"x":0.08,"y":0},{"p":63,"x":0.46,"y":0},{"p":63,"x":0.85,"y":0},{"p":63,"x":1.24,"y":0},{"p":63,"x":1.5,"y":0},{"p":63,"x":2.14,"y":0.0066},{"p":63,"x":2.5,"y":0.0085},{"p":63,"x":2.85,"y":0.011},{"p":63,"x":3.43,"y":0.0084},{"p":63,"x":3.74,"y":0.0168},{"p":63,"x":4.07,"y":0.0218},{"p":63,"x":4.25,"y":0.0274},{"p":63,"x":4.51,"y":0.0338},{"p":63,"x":4.8,"y":0.0548},{"p":63,"x":5.18,"y":0.0452},{"p":63,"x":5.44,"y":0.0635},{"p":63,"x":5.8,"y":0.05},{"p":63,"x":6.13,"y":0.0548},{"p":63,"x":6.44,"y":0.0883},{"p":63,"x":6.65,"y":0.0584},{"p":63,"x":7,"y":0.061},{"p":63,"x":7.42,"y":0.0668},{"p":63,"x":7.8,"y":0.068},{"p":63,"x":8.2,"y":0.0312},{"p":63,"x":8.53,"y":0.0294},{"p":63,"x":8.84,"y":0.0355},{"p":63,"x":9.15,"y":0.0211},{"p":63,"x":9.74,"y":0.0294},{"p":63,"x":10.1,"y":0.017},{"p":63,"x":10.5,"y":0.0193},{"p":63,"x":10.85,"y":0.006},{"p":63,"x":11.16,"y":0.0109},{"p":63,"x":11.42,"y":0.0091},{"p":63,"x":11.8,"y":0.0071},{"p":63,"x":12.06,"y":0.0058},{"p":63,"x":12.4,"y":0.002},{"p":63,"x":12.7,"y":0.0015},{"p":63,"x":13.2,"y":0.0025},{"p":63,"x":13.6,"y":0.0025},{"p":63,"x":14,"y":0.002},{"p":63,"x":14.4,"y":0.001},{"p":63,"x":14.77,"y":0.0025},{"p":63,"x":15.1,"y":0.001},{"p":63,"x":15.5,"y":0.0025},{"p":63,"x":15.9,"y":0.0033},{"p":63,"x":16.3,"y":0.0025},{"p":63,"x":16.7,"y":0},{"p":63,"x":17.1,"y":0},{"p":63,"x":17.5,"y":0},{"p":63,"x":17.9,"y":0},{"p":63,"x":18.3,"y":0},{"p":63,"x":18.76,"y":0.0033},{"p":63,"x":19.2,"y":0},{"p":63,"x":19.6,"y":0},{"p":63,"x":20,"y":0},{"p":63,"x":20.4,"y":0},{"p":63,"x":20.8,"y":0},{"p":63,"x":21.2,"y":0},{"p":63,"x":21.6,"y":0},{"p":63,"x":22,"y":0},{"p":63,"x":22.4,"y":0},{"p":63,"x":22.8,"y":0},{"p":63,"x":23.2,"y":0},{"p":63,"x":23.6,"y":0},{"p":63,"x":24,"y":0},{"p":63,"x":24.4,"y":0},{"p":63,"x":24.8,"y":0},
{"p":74,"x":0.05,"y":0},{"p":74,"x":0.44,"y":0},{"p":74,"x":0.82,"y":0},{"p":74,"x":1.21,"y":0},{"p":74,"x":1.47,"y":0.001},{"p":74,"x":1.86,"y":0.0018},{"p":74,"x":2.11,"y":0.0113},{"p":74,"x":2.45,"y":0.006},{"p":74,"x":2.8,"y":0.0075},{"p":74,"x":3.14,"y":0.0083},{"p":74,"x":3.4,"y":0.0115},{"p":74,"x":3.66,"y":0.0176},{"p":74,"x":3.9,"y":0.0135},{"p":74,"x":4.18,"y":0.0206},{"p":74,"x":4.43,"y":0.0211},{"p":74,"x":4.82,"y":0.0106},{"p":74,"x":5.2,"y":0.0211},{"p":74,"x":5.45,"y":0.027},{"p":74,"x":5.72,"y":0.0327},{"p":74,"x":6.1,"y":0.035},{"p":74,"x":6.44,"y":0.037},{"p":74,"x":6.75,"y":0.0395},{"p":74,"x":7.14,"y":0.0564},{"p":74,"x":7.45,"y":0.053},{"p":74,"x":7.78,"y":0.0702},{"p":74,"x":8.12,"y":0.044},{"p":74,"x":8.56,"y":0.0559},{"p":74,"x":8.8,"y":0.057},{"p":74,"x":9.07,"y":0.0534},{"p":74,"x":9.46,"y":0.0445},{"p":74,"x":9.8,"y":0.0383},{"p":74,"x":10.1,"y":0.0408},{"p":74,"x":10.5,"y":0.0201},{"p":74,"x":10.88,"y":0.0269},{"p":74,"x":11.25,"y":0.021},{"p":74,"x":11.65,"y":0.0156},{"p":74,"x":12.04,"y":0.0169},{"p":74,"x":12.47,"y":0.0156},{"p":74,"x":12.8,"y":0.0111},{"p":74,"x":13.2,"y":0.006},{"p":74,"x":13.58,"y":0.005},{"p":74,"x":13.9,"y":0.0043},{"p":74,"x":14.28,"y":0.0043},{"p":74,"x":14.74,"y":0.003},{"p":74,"x":15.13,"y":0.0025},{"p":74,"x":15.5,"y":0.001},{"p":74,"x":15.8,"y":0.001},{"p":74,"x":16.1,"y":0.0043},{"p":74,"x":16.5,"y":0},{"p":74,"x":16.9,"y":0},{"p":74,"x":17.3,"y":0},{"p":74,"x":17.7,"y":0},{"p":74,"x":18.1,"y":0},{"p":74,"x":18.5,"y":0},{"p":74,"x":18.9,"y":0},{"p":74,"x":19.3,"y":0},{"p":74,"x":19.7,"y":0},{"p":74,"x":20.1,"y":0},{"p":74,"x":20.5,"y":0},{"p":74,"x":20.9,"y":0},{"p":74,"x":21.3,"y":0},{"p":74,"x":21.7,"y":0},{"p":74,"x":22.1,"y":0},{"p":74,"x":22.5,"y":0},{"p":74,"x":22.9,"y":0},{"p":74,"x":23.3,"y":0},{"p":74,"x":23.7,"y":0},{"p":74,"x":24.1,"y":0},{"p":74,"x":24.5,"y":0},{"p":74,"x":24.9,"y":0},
{"p":75,"x":0,"y":0},{"p":75,"x":0.39,"y":0},{"p":75,"x":0.78,"y":0},{"p":75,"x":1.1,"y":0.0005},{"p":75,"x":1.5,"y":0.0055},{"p":75,"x":1.8,"y":0.003},{"p":75,"x":2.12,"y":0.0118},{"p":75,"x":2.45,"y":0.006},{"p":75,"x":2.79,"y":0.003},{"p":75,"x":3.15,"y":0.008},{"p":75,"x":3.62,"y":0.0126},{"p":75,"x":4,"y":0.0186},{"p":75,"x":4.4,"y":0.0327},{"p":75,"x":4.78,"y":0.0232},{"p":75,"x":5.17,"y":0.0496},{"p":75,"x":5.45,"y":0.047},{"p":75,"x":5.74,"y":0.0589},{"p":75,"x":6.08,"y":0.0546},{"p":75,"x":6.46,"y":0.0805},{"p":75,"x":6.8,"y":0.073},{"p":75,"x":7.1,"y":0.0805},{"p":75,"x":7.42,"y":0.07},{"p":75,"x":7.76,"y":0.0564},{"p":75,"x":8.09,"y":0.0521},{"p":75,"x":8.53,"y":0.0559},{"p":75,"x":8.8,"y":0.048},{"p":75,"x":9.05,"y":0.0282},{"p":75,"x":9.26,"y":0.0219},{"p":75,"x":9.7,"y":0.0101},{"p":75,"x":10.34,"y":0.0136},{"p":75,"x":10.73,"y":0.0106},{"p":75,"x":11.1,"y":0.0106},{"p":75,"x":11.45,"y":0.003},{"p":75,"x":11.76,"y":0.005},{"p":75,"x":12.1,"y":0.002},{"p":75,"x":12.4,"y":0.0043},{"p":75,"x":12.75,"y":0.002},{"p":75,"x":13.06,"y":0.0055},{"p":75,"x":13.4,"y":0.001},{"p":75,"x":13.7,"y":0.0025},{"p":75,"x":14.1,"y":0.0025},{"p":75,"x":14.45,"y":0.002},{"p":75,"x":14.8,"y":0.0025},{"p":75,"x":15.1,"y":0.0025},{"p":75,"x":15.5,"y":0.0015},{"p":75,"x":15.9,"y":0.001},{"p":75,"x":16.2,"y":0.001},{"p":75,"x":16.5,"y":0.0025},{"p":75,"x":16.85,"y":0.0025},{"p":75,"x":17.2,"y":0},{"p":75,"x":17.6,"y":0},{"p":75,"x":18,"y":0},{"p":75,"x":18.4,"y":0},{"p":75,"x":18.8,"y":0},{"p":75,"x":19.2,"y":0},{"p":75,"x":19.6,"y":0},{"p":75,"x":20,"y":0},{"p":75,"x":20.4,"y":0},{"p":75,"x":20.8,"y":0},{"p":75,"x":21.2,"y":0},{"p":75,"x":21.6,"y":0},{"p":75,"x":22,"y":0},{"p":75,"x":22.4,"y":0},{"p":75,"x":22.8,"y":0},{"p":75,"x":23.2,"y":0},{"p":75,"x":23.6,"y":0},{"p":75,"x":24,"y":0},{"p":75,"x":24.4,"y":0},{"p":75,"x":24.8,"y":0}
],
"tx":[
{"p":20,"x":-1.19,"y":0.0838,"s":"K","t":"","u":"age = 20"},
{"p":20,"x":11.9,"y":0.0838,"s":"A","t":"C","u":"= 11"},{"p":20,"x":16.03,"y":0.0838,"s":"A","t":"Σ","u":"= 3.90 × 10⁻⁵"},
{"p":20,"x":11.9,"y":0.072,"s":"B","t":"C","u":"= 11"},{"p":20,"x":16.03,"y":0.072,"s":"B","t":"Σ","u":"= 3.91 × 10⁻⁵"},
{"p":20,"x":11.9,"y":0.0602,"s":"C","t":"C","u":"= 11"},{"p":20,"x":16.03,"y":0.0602,"s":"C","t":"Σ","u":"= 3.87 × 10⁻⁵"},
{"p":20,"x":11.9,"y":0.0484,"s":"D","t":"C","u":"= 11"},{"p":20,"x":16.03,"y":0.0484,"s":"D","t":"Σ","u":"= 3.78 × 10⁻⁵"},
{"p":20,"x":0.53,"y":0.068,"s":"K","t":"","u":"data"},{"p":20,"x":0.53,"y":0.0562,"s":"K","t":"","u":"delta"},{"p":20,"x":0.53,"y":0.0444,"s":"K","t":"","u":"geometric"},{"p":20,"x":1.15,"y":0.0326,"s":"K","t":"p","u":"ₛ = 0"},{"p":20,"x":1.15,"y":0.0208,"s":"K","t":"p","u":"ₛ = 0.1"},
{"p":21,"x":-1.19,"y":0.0838,"s":"K","t":"","u":"age = 21"},
{"p":21,"x":12.8,"y":0.0838,"s":"A","t":"C","u":"= 9"},{"p":21,"x":16.67,"y":0.0838,"s":"A","t":"Σ","u":"= 1.97 × 10⁻⁵"},
{"p":21,"x":12.8,"y":0.072,"s":"B","t":"C","u":"= 9"},{"p":21,"x":16.67,"y":0.072,"s":"B","t":"Σ","u":"= 1.85 × 10⁻⁵"},
{"p":21,"x":12.8,"y":0.0602,"s":"C","t":"C","u":"= 9"},{"p":21,"x":16.67,"y":0.0602,"s":"C","t":"Σ","u":"= 1.90 × 10⁻⁵"},
{"p":21,"x":12.8,"y":0.0484,"s":"D","t":"C","u":"= 9"},{"p":21,"x":16.67,"y":0.0484,"s":"D","t":"Σ","u":"= 1.90 × 10⁻⁵"},
{"p":22,"x":-1.19,"y":0.0838,"s":"K","t":"","u":"age = 22"},
{"p":22,"x":11.92,"y":0.0838,"s":"A","t":"C","u":"= 9"},{"p":22,"x":16.03,"y":0.0838,"s":"A","t":"Σ","u":"= 4.03 × 10⁻⁵"},
{"p":22,"x":11.92,"y":0.072,"s":"B","t":"C","u":"= 9"},{"p":22,"x":16.03,"y":0.072,"s":"B","t":"Σ","u":"= 3.90 × 10⁻⁵"},
{"p":22,"x":11.92,"y":0.0602,"s":"C","t":"C","u":"= 9"},{"p":22,"x":16.03,"y":0.0602,"s":"C","t":"Σ","u":"= 3.93 × 10⁻⁵"},
{"p":22,"x":11.92,"y":0.0484,"s":"D","t":"C","u":"= 9"},{"p":22,"x":16.03,"y":0.0484,"s":"D","t":"Σ","u":"= 3.93 × 10⁻⁵"},
{"p":27,"x":-1.19,"y":0.0838,"s":"K","t":"","u":"age = 27"},
{"p":27,"x":12.24,"y":0.0838,"s":"A","t":"C","u":"= 10"},{"p":27,"x":16.57,"y":0.0838,"s":"A","t":"Σ","u":"= 2.08 × 10⁻⁵"},
{"p":27,"x":12.24,"y":0.072,"s":"B","t":"C","u":"= 10"},{"p":27,"x":16.57,"y":0.072,"s":"B","t":"Σ","u":"= 2.16 × 10⁻⁵"},
{"p":27,"x":12.24,"y":0.0602,"s":"C","t":"C","u":"= 10"},{"p":27,"x":16.57,"y":0.0602,"s":"C","t":"Σ","u":"= 2.08 × 10⁻⁵"},
{"p":27,"x":12.24,"y":0.0484,"s":"D","t":"C","u":"= 10"},{"p":27,"x":16.57,"y":0.0484,"s":"D","t":"Σ","u":"= 2.03 × 10⁻⁵"},
{"p":35,"x":-1.19,"y":0.0838,"s":"K","t":"","u":"age = 35"},
{"p":35,"x":11.92,"y":0.0838,"s":"A","t":"C","u":"=10"},{"p":35,"x":16.49,"y":0.0838,"s":"A","t":"Σ","u":"= 1.63 × 10⁻⁵"},
{"p":35,"x":11.92,"y":0.072,"s":"B","t":"C","u":"=10"},{"p":35,"x":16.49,"y":0.072,"s":"B","t":"Σ","u":"= 1.45 × 10⁻⁵"},
{"p":35,"x":11.92,"y":0.0602,"s":"C","t":"C","u":"=10"},{"p":35,"x":16.49,"y":0.0602,"s":"C","t":"Σ","u":"= 1.38 × 10⁻⁵"},
{"p":35,"x":11.92,"y":0.0484,"s":"D","t":"C","u":"=10"},{"p":35,"x":16.49,"y":0.0484,"s":"D","t":"Σ","u":"= 1.38 × 10⁻⁵"},
{"p":38,"x":-1.19,"y":0.0838,"s":"K","t":"","u":"age = 38"},
{"p":38,"x":13.35,"y":0.0838,"s":"A","t":"C","u":"= 10"},{"p":38,"x":17.35,"y":0.0838,"s":"A","t":"Σ","u":"= 1.86 × 10⁻⁵"},
{"p":38,"x":13.35,"y":0.072,"s":"B","t":"C","u":"= 10"},{"p":38,"x":17.35,"y":0.072,"s":"B","t":"Σ","u":"= 1.72 × 10⁻⁵"},
{"p":38,"x":13.35,"y":0.0602,"s":"C","t":"C","u":"= 10"},{"p":38,"x":17.35,"y":0.0602,"s":"C","t":"Σ","u":"= 1.71 × 10⁻⁵"},
{"p":38,"x":13.35,"y":0.0484,"s":"D","t":"C","u":"= 10"},{"p":38,"x":17.35,"y":0.0484,"s":"D","t":"Σ","u":"= 1.91 × 10⁻⁵"},
{"p":56,"x":-1.19,"y":0.0838,"s":"K","t":"","u":"age = 56"},
{"p":56,"x":11.92,"y":0.0838,"s":"A","t":"C","u":"=10"},{"p":56,"x":16.49,"y":0.0838,"s":"A","t":"Σ","u":"= 3.06 × 10⁻⁵"},
{"p":56,"x":11.92,"y":0.072,"s":"B","t":"C","u":"=10"},{"p":56,"x":16.49,"y":0.072,"s":"B","t":"Σ","u":"= 2.88 × 10⁻⁵"},
{"p":56,"x":11.92,"y":0.0602,"s":"C","t":"C","u":"=10"},{"p":56,"x":16.49,"y":0.0602,"s":"C","t":"Σ","u":"= 2.71 × 10⁻⁵"},
{"p":56,"x":11.92,"y":0.0484,"s":"D","t":"C","u":"=10"},{"p":56,"x":16.49,"y":0.0484,"s":"D","t":"Σ","u":"= 2.79 × 10⁻⁵"},
{"p":63,"x":-1.19,"y":0.0838,"s":"K","t":"","u":"age = 63"},
{"p":63,"x":12.06,"y":0.0838,"s":"A","t":"C","u":"=10"},{"p":63,"x":16.57,"y":0.0838,"s":"A","t":"Σ","u":"= 4.11 × 10⁻⁵"},
{"p":63,"x":12.06,"y":0.072,"s":"B","t":"C","u":"=10"},{"p":63,"x":16.57,"y":0.072,"s":"B","t":"Σ","u":"= 4.25 × 10⁻⁵"},
{"p":63,"x":12.06,"y":0.0602,"s":"C","t":"C","u":"=11"},{"p":63,"x":16.57,"y":0.0602,"s":"C","t":"Σ","u":"= 3.67 × 10⁻⁵"},
{"p":63,"x":12.06,"y":0.0484,"s":"D","t":"C","u":"=10"},{"p":63,"x":16.57,"y":0.0484,"s":"D","t":"Σ","u":"= 4.10 × 10⁻⁵"},
{"p":74,"x":-1.19,"y":0.0838,"s":"K","t":"","u":"age = 74"},
{"p":74,"x":12.04,"y":0.0838,"s":"A","t":"C","u":"=9"},{"p":74,"x":16.6,"y":0.0838,"s":"A","t":"Σ","u":"= 2.30 × 10⁻⁵"},
{"p":74,"x":12.04,"y":0.072,"s":"B","t":"C","u":"=10"},{"p":74,"x":16.6,"y":0.072,"s":"B","t":"Σ","u":"= 2.21 × 10⁻⁵"},
{"p":74,"x":12.04,"y":0.0602,"s":"C","t":"C","u":"=10"},{"p":74,"x":16.6,"y":0.0602,"s":"C","t":"Σ","u":"= 1.77 × 10⁻⁵"},
{"p":74,"x":12.04,"y":0.0484,"s":"D","t":"C","u":"=10"},{"p":74,"x":16.6,"y":0.0484,"s":"D","t":"Σ","u":"= 2.13 × 10⁻⁵"},
{"p":75,"x":-1.19,"y":0.0838,"s":"K","t":"","u":"age = 75"},
{"p":75,"x":11.94,"y":0.0838,"s":"A","t":"C","u":"=11"},{"p":75,"x":16.6,"y":0.0838,"s":"A","t":"Σ","u":"= 2.02 × 10⁻⁵"},
{"p":75,"x":11.94,"y":0.072,"s":"B","t":"C","u":"=11"},{"p":75,"x":16.6,"y":0.072,"s":"B","t":"Σ","u":"= 1.99 × 10⁻⁵"},
{"p":75,"x":11.94,"y":0.0602,"s":"C","t":"C","u":"=12"},{"p":75,"x":16.6,"y":0.0602,"s":"C","t":"Σ","u":"= 1.59 × 10⁻⁵"},
{"p":75,"x":11.94,"y":0.0484,"s":"D","t":"C","u":"=11"},{"p":75,"x":16.6,"y":0.0484,"s":"D","t":"Σ","u":"= 1.72 × 10⁻⁵"}
],
"lg":[{"p":20,"x":-0.16,"x2":0.83,"y":0.0562,"s":"A"},{"p":20,"x":-0.16,"x2":0.83,"y":0.0444,"s":"B"},{"p":20,"x":-0.16,"x2":0.83,"y":0.0326,"s":"C"},{"p":20,"x":-0.16,"x2":0.83,"y":0.0208,"s":"D"}],
"bx":[{"p":20,"x":-0.51,"x2":5.6,"y":0.0145,"y2":0.0745}]
},
"columns":2,"spacing":{"row":13.5,"column":20},"bounds":"flush",
"concat":[
{"width":336,"height":127,"encoding":{"x":{"field":"x","type":"quantitative","scale":{"domain":[-1.1,25],"nice":false,"zero":false},"axis":{"values":[0,5,10,15,20,25],"labels":false,"title":null}},"y":{"field":"y","type":"quantitative","scale":{"domain":[-0.0044,0.092],"nice":false,"zero":false},"axis":{"values":[0,0.025,0.05,0.075],"title":"frequency","labelExpr":"datum.value==0?'0':format(datum.value,'.3f')"}}},
"layer":[
{"data":{"name":"cv"},"transform":[{"filter":"datum.p==20"},{"fold":["A","B","C","D"],"as":["s","y"]}],"mark":"line","encoding":{"stroke":{"field":"s","type":"nominal","scale":{"domain":["A","B","C","D"],"range":["#FFA500","#0000FF","#008000","#800080"]},"legend":null}}},
{"data":{"name":"bx"},"mark":{"type":"rect","fill":"white","stroke":"#CCCCCC","strokeWidth":1,"cornerRadius":3},"encoding":{"x2":{"field":"x2"},"y2":{"field":"y2"}}},
{"data":{"name":"lg"},"mark":{"type":"rule","strokeWidth":4.5},"encoding":{"x2":{"field":"x2"},"stroke":{"field":"s","type":"nominal","scale":{"domain":["A","B","C","D"],"range":["#FFA500","#0000FF","#008000","#800080"]},"legend":null}}},
{"data":{"name":"pt"},"transform":[{"filter":"datum.p==20"}],"mark":"point"},
{"data":{"name":"tx"},"transform":[{"filter":"datum.p==20&&datum.t!=''"}],"mark":{"type":"text","fontStyle":"italic"},"encoding":{"text":{"field":"t"},"fill":{"field":"s","type":"nominal","scale":{"domain":["A","B","C","D","K"],"range":["#D99A2B","#1E1EC0","#2A5A2A","#4E1C50","#000000"]},"legend":null}}},
{"data":{"name":"tx"},"transform":[{"filter":"datum.p==20&&datum.t=='C'"}],"mark":{"type":"text","dx":13},"encoding":{"text":{"field":"u"},"fill":{"field":"s","type":"nominal","scale":{"domain":["A","B","C","D","K"],"range":["#D99A2B","#1E1EC0","#2A5A2A","#4E1C50","#000000"]},"legend":null}}},
{"data":{"name":"tx"},"transform":[{"filter":"datum.p==20&&datum.t=='Σ'"}],"mark":{"type":"text","dx":10},"encoding":{"text":{"field":"u"},"fill":{"field":"s","type":"nominal","scale":{"domain":["A","B","C","D","K"],"range":["#D99A2B","#1E1EC0","#2A5A2A","#4E1C50","#000000"]},"legend":null}}},
{"data":{"name":"tx"},"transform":[{"filter":"datum.p==20&&datum.t!='C'&&datum.t!='Σ'"}],"mark":{"type":"text","dx":8},"encoding":{"text":{"field":"u"},"fill":{"field":"s","type":"nominal","scale":{"domain":["A","B","C","D","K"],"range":["#D99A2B","#1E1EC0","#2A5A2A","#4E1C50","#000000"]},"legend":null}}}
]},
{"width":336,"height":127,"encoding":{"x":{"field":"x","type":"quantitative","scale":{"domain":[-1.1,25],"nice":false,"zero":false},"axis":{"values":[0,5,10,15,20,25],"labels":false,"title":null}},"y":{"field":"y","type":"quantitative","scale":{"domain":[-0.0044,0.092],"nice":false,"zero":false},"axis":{"values":[0,0.025,0.05,0.075],"labels":false,"title":null}}},
"layer":[
{"data":{"name":"cv"},"transform":[{"filter":"datum.p==21"},{"fold":["A","B","C","D"],"as":["s","y"]}],"mark":"line","encoding":{"stroke":{"field":"s","type":"nominal","scale":{"domain":["A","B","C","D"],"range":["#FFA500","#0000FF","#008000","#800080"]},"legend":null}}},
{"data":{"name":"pt"},"transform":[{"filter":"datum.p==21"}],"mark":"point"},
{"data":{"name":"tx"},"transform":[{"filter":"datum.p==21&&datum.t!=''"}],"mark":{"type":"text","fontStyle":"italic"},"encoding":{"text":{"field":"t"},"fill":{"field":"s","type":"nominal","scale":{"domain":["A","B","C","D","K"],"range":["#D99A2B","#1E1EC0","#2A5A2A","#4E1C50","#000000"]},"legend":null}}},
{"data":{"name":"tx"},"transform":[{"filter":"datum.p==21&&datum.t=='C'"}],"mark":{"type":"text","dx":13},"encoding":{"text":{"field":"u"},"fill":{"field":"s","type":"nominal","scale":{"domain":["A","B","C","D","K"],"range":["#D99A2B","#1E1EC0","#2A5A2A","#4E1C50","#000000"]},"legend":null}}},
{"data":{"name":"tx"},"transform":[{"filter":"datum.p==21&&datum.t=='Σ'"}],"mark":{"type":"text","dx":10},"encoding":{"text":{"field":"u"},"fill":{"field":"s","type":"nominal","scale":{"domain":["A","B","C","D","K"],"range":["#D99A2B","#1E1EC0","#2A5A2A","#4E1C50","#000000"]},"legend":null}}},
{"data":{"name":"tx"},"transform":[{"filter":"datum.p==21&&datum.t==''"}],"mark":{"type":"text","dx":8},"encoding":{"text":{"field":"u"},"fill":{"field":"s","type":"nominal","scale":{"domain":["A","B","C","D","K"],"range":["#D99A2B","#1E1EC0","#2A5A2A","#4E1C50","#000000"]},"legend":null}}}
]},
{"width":336,"height":127,"encoding":{"x":{"field":"x","type":"quantitative","scale":{"domain":[-1.1,25],"nice":false,"zero":false},"axis":{"values":[0,5,10,15,20,25],"labels":false,"title":null}},"y":{"field":"y","type":"quantitative","scale":{"domain":[-0.0044,0.092],"nice":false,"zero":false},"axis":{"values":[0,0.025,0.05,0.075],"title":"frequency","labelExpr":"datum.value==0?'0':format(datum.value,'.3f')"}}},
"layer":[
{"data":{"name":"cv"},"transform":[{"filter":"datum.p==22"},{"fold":["A","B","C","D"],"as":["s","y"]}],"mark":"line","encoding":{"stroke":{"field":"s","type":"nominal","scale":{"domain":["A","B","C","D"],"range":["#FFA500","#0000FF","#008000","#800080"]},"legend":null}}},
{"data":{"name":"pt"},"transform":[{"filter":"datum.p==22"}],"mark":"point"},
{"data":{"name":"tx"},"transform":[{"filter":"datum.p==22&&datum.t!=''"}],"mark":{"type":"text","fontStyle":"italic"},"encoding":{"text":{"field":"t"},"fill":{"field":"s","type":"nominal","scale":{"domain":["A","B","C","D","K"],"range":["#D99A2B","#1E1EC0","#2A5A2A","#4E1C50","#000000"]},"legend":null}}},
{"data":{"name":"tx"},"transform":[{"filter":"datum.p==22&&datum.t=='C'"}],"mark":{"type":"text","dx":13},"encoding":{"text":{"field":"u"},"fill":{"field":"s","type":"nominal","scale":{"domain":["A","B","C","D","K"],"range":["#D99A2B","#1E1EC0","#2A5A2A","#4E1C50","#000000"]},"legend":null}}},
{"data":{"name":"tx"},"transform":[{"filter":"datum.p==22&&datum.t=='Σ'"}],"mark":{"type":"text","dx":10},"encoding":{"text":{"field":"u"},"fill":{"field":"s","type":"nominal","scale":{"domain":["A","B","C","D","K"],"range":["#D99A2B","#1E1EC0","#2A5A2A","#4E1C50","#000000"]},"legend":null}}},
{"data":{"name":"tx"},"transform":[{"filter":"datum.p==22&&datum.t==''"}],"mark":{"type":"text","dx":8},"encoding":{"text":{"field":"u"},"fill":{"field":"s","type":"nominal","scale":{"domain":["A","B","C","D","K"],"range":["#D99A2B","#1E1EC0","#2A5A2A","#4E1C50","#000000"]},"legend":null}}}
]},
{"width":336,"height":127,"encoding":{"x":{"field":"x","type":"quantitative","scale":{"domain":[-1.1,25],"nice":false,"zero":false},"axis":{"values":[0,5,10,15,20,25],"labels":false,"title":null}},"y":{"field":"y","type":"quantitative","scale":{"domain":[-0.0044,0.092],"nice":false,"zero":false},"axis":{"values":[0,0.025,0.05,0.075],"labels":false,"title":null}}},
"layer":[
{"data":{"name":"cv"},"transform":[{"filter":"datum.p==27"},{"fold":["A","B","C","D"],"as":["s","y"]}],"mark":"line","encoding":{"stroke":{"field":"s","type":"nominal","scale":{"domain":["A","B","C","D"],"range":["#FFA500","#0000FF","#008000","#800080"]},"legend":null}}},
{"data":{"name":"pt"},"transform":[{"filter":"datum.p==27"}],"mark":"point"},
{"data":{"name":"tx"},"transform":[{"filter":"datum.p==27&&datum.t!=''"}],"mark":{"type":"text","fontStyle":"italic"},"encoding":{"text":{"field":"t"},"fill":{"field":"s","type":"nominal","scale":{"domain":["A","B","C","D","K"],"range":["#D99A2B","#1E1EC0","#2A5A2A","#4E1C50","#000000"]},"legend":null}}},
{"data":{"name":"tx"},"transform":[{"filter":"datum.p==27&&datum.t=='C'"}],"mark":{"type":"text","dx":13},"encoding":{"text":{"field":"u"},"fill":{"field":"s","type":"nominal","scale":{"domain":["A","B","C","D","K"],"range":["#D99A2B","#1E1EC0","#2A5A2A","#4E1C50","#000000"]},"legend":null}}},
{"data":{"name":"tx"},"transform":[{"filter":"datum.p==27&&datum.t=='Σ'"}],"mark":{"type":"text","dx":10},"encoding":{"text":{"field":"u"},"fill":{"field":"s","type":"nominal","scale":{"domain":["A","B","C","D","K"],"range":["#D99A2B","#1E1EC0","#2A5A2A","#4E1C50","#000000"]},"legend":null}}},
{"data":{"name":"tx"},"transform":[{"filter":"datum.p==27&&datum.t==''"}],"mark":{"type":"text","dx":8},"encoding":{"text":{"field":"u"},"fill":{"field":"s","type":"nominal","scale":{"domain":["A","B","C","D","K"],"range":["#D99A2B","#1E1EC0","#2A5A2A","#4E1C50","#000000"]},"legend":null}}}
]},
{"width":336,"height":127,"encoding":{"x":{"field":"x","type":"quantitative","scale":{"domain":[-1.1,25],"nice":false,"zero":false},"axis":{"values":[0,5,10,15,20,25],"labels":false,"title":null}},"y":{"field":"y","type":"quantitative","scale":{"domain":[-0.0044,0.092],"nice":false,"zero":false},"axis":{"values":[0,0.025,0.05,0.075],"title":"frequency","labelExpr":"datum.value==0?'0':format(datum.value,'.3f')"}}},
"layer":[
{"data":{"name":"cv"},"transform":[{"filter":"datum.p==35"},{"fold":["A","B","C","D"],"as":["s","y"]}],"mark":"line","encoding":{"stroke":{"field":"s","type":"nominal","scale":{"domain":["A","B","C","D"],"range":["#FFA500","#0000FF","#008000","#800080"]},"legend":null}}},
{"data":{"name":"pt"},"transform":[{"filter":"datum.p==35"}],"mark":"point"},
{"data":{"name":"tx"},"transform":[{"filter":"datum.p==35&&datum.t!=''"}],"mark":{"type":"text","fontStyle":"italic"},"encoding":{"text":{"field":"t"},"fill":{"field":"s","type":"nominal","scale":{"domain":["A","B","C","D","K"],"range":["#D99A2B","#1E1EC0","#2A5A2A","#4E1C50","#000000"]},"legend":null}}},
{"data":{"name":"tx"},"transform":[{"filter":"datum.p==35&&datum.t=='C'"}],"mark":{"type":"text","dx":13},"encoding":{"text":{"field":"u"},"fill":{"field":"s","type":"nominal","scale":{"domain":["A","B","C","D","K"],"range":["#D99A2B","#1E1EC0","#2A5A2A","#4E1C50","#000000"]},"legend":null}}},
{"data":{"name":"tx"},"transform":[{"filter":"datum.p==35&&datum.t=='Σ'"}],"mark":{"type":"text","dx":10},"encoding":{"text":{"field":"u"},"fill":{"field":"s","type":"nominal","scale":{"domain":["A","B","C","D","K"],"range":["#D99A2B","#1E1EC0","#2A5A2A","#4E1C50","#000000"]},"legend":null}}},
{"data":{"name":"tx"},"transform":[{"filter":"datum.p==35&&datum.t==''"}],"mark":{"type":"text","dx":8},"encoding":{"text":{"field":"u"},"fill":{"field":"s","type":"nominal","scale":{"domain":["A","B","C","D","K"],"range":["#D99A2B","#1E1EC0","#2A5A2A","#4E1C50","#000000"]},"legend":null}}}
]},
{"width":336,"height":127,"encoding":{"x":{"field":"x","type":"quantitative","scale":{"domain":[-1.1,25],"nice":false,"zero":false},"axis":{"values":[0,5,10,15,20,25],"labels":false,"title":null}},"y":{"field":"y","type":"quantitative","scale":{"domain":[-0.0044,0.092],"nice":false,"zero":false},"axis":{"values":[0,0.025,0.05,0.075],"labels":false,"title":null}}},
"layer":[
{"data":{"name":"cv"},"transform":[{"filter":"datum.p==38"},{"fold":["A","B","C","D"],"as":["s","y"]}],"mark":"line","encoding":{"stroke":{"field":"s","type":"nominal","scale":{"domain":["A","B","C","D"],"range":["#FFA500","#0000FF","#008000","#800080"]},"legend":null}}},
{"data":{"name":"pt"},"transform":[{"filter":"datum.p==38"}],"mark":"point"},
{"data":{"name":"tx"},"transform":[{"filter":"datum.p==38&&datum.t!=''"}],"mark":{"type":"text","fontStyle":"italic"},"encoding":{"text":{"field":"t"},"fill":{"field":"s","type":"nominal","scale":{"domain":["A","B","C","D","K"],"range":["#D99A2B","#1E1EC0","#2A5A2A","#4E1C50","#000000"]},"legend":null}}},
{"data":{"name":"tx"},"transform":[{"filter":"datum.p==38&&datum.t=='C'"}],"mark":{"type":"text","dx":13},"encoding":{"text":{"field":"u"},"fill":{"field":"s","type":"nominal","scale":{"domain":["A","B","C","D","K"],"range":["#D99A2B","#1E1EC0","#2A5A2A","#4E1C50","#000000"]},"legend":null}}},
{"data":{"name":"tx"},"transform":[{"filter":"datum.p==38&&datum.t=='Σ'"}],"mark":{"type":"text","dx":10},"encoding":{"text":{"field":"u"},"fill":{"field":"s","type":"nominal","scale":{"domain":["A","B","C","D","K"],"range":["#D99A2B","#1E1EC0","#2A5A2A","#4E1C50","#000000"]},"legend":null}}},
{"data":{"name":"tx"},"transform":[{"filter":"datum.p==38&&datum.t==''"}],"mark":{"type":"text","dx":8},"encoding":{"text":{"field":"u"},"fill":{"field":"s","type":"nominal","scale":{"domain":["A","B","C","D","K"],"range":["#D99A2B","#1E1EC0","#2A5A2A","#4E1C50","#000000"]},"legend":null}}}
]},
{"width":336,"height":127,"encoding":{"x":{"field":"x","type":"quantitative","scale":{"domain":[-1.1,25],"nice":false,"zero":false},"axis":{"values":[0,5,10,15,20,25],"labels":false,"title":null}},"y":{"field":"y","type":"quantitative","scale":{"domain":[-0.0044,0.092],"nice":false,"zero":false},"axis":{"values":[0,0.025,0.05,0.075],"title":"frequency","labelExpr":"datum.value==0?'0':format(datum.value,'.3f')"}}},
"layer":[
{"data":{"name":"cv"},"transform":[{"filter":"datum.p==56"},{"fold":["A","B","C","D"],"as":["s","y"]}],"mark":"line","encoding":{"stroke":{"field":"s","type":"nominal","scale":{"domain":["A","B","C","D"],"range":["#FFA500","#0000FF","#008000","#800080"]},"legend":null}}},
{"data":{"name":"pt"},"transform":[{"filter":"datum.p==56"}],"mark":"point"},
{"data":{"name":"tx"},"transform":[{"filter":"datum.p==56&&datum.t!=''"}],"mark":{"type":"text","fontStyle":"italic"},"encoding":{"text":{"field":"t"},"fill":{"field":"s","type":"nominal","scale":{"domain":["A","B","C","D","K"],"range":["#D99A2B","#1E1EC0","#2A5A2A","#4E1C50","#000000"]},"legend":null}}},
{"data":{"name":"tx"},"transform":[{"filter":"datum.p==56&&datum.t=='C'"}],"mark":{"type":"text","dx":13},"encoding":{"text":{"field":"u"},"fill":{"field":"s","type":"nominal","scale":{"domain":["A","B","C","D","K"],"range":["#D99A2B","#1E1EC0","#2A5A2A","#4E1C50","#000000"]},"legend":null}}},
{"data":{"name":"tx"},"transform":[{"filter":"datum.p==56&&datum.t=='Σ'"}],"mark":{"type":"text","dx":10},"encoding":{"text":{"field":"u"},"fill":{"field":"s","type":"nominal","scale":{"domain":["A","B","C","D","K"],"range":["#D99A2B","#1E1EC0","#2A5A2A","#4E1C50","#000000"]},"legend":null}}},
{"data":{"name":"tx"},"transform":[{"filter":"datum.p==56&&datum.t==''"}],"mark":{"type":"text","dx":8},"encoding":{"text":{"field":"u"},"fill":{"field":"s","type":"nominal","scale":{"domain":["A","B","C","D","K"],"range":["#D99A2B","#1E1EC0","#2A5A2A","#4E1C50","#000000"]},"legend":null}}}
]},
{"width":336,"height":127,"encoding":{"x":{"field":"x","type":"quantitative","scale":{"domain":[-1.1,25],"nice":false,"zero":false},"axis":{"values":[0,5,10,15,20,25],"labels":false,"title":null}},"y":{"field":"y","type":"quantitative","scale":{"domain":[-0.0044,0.092],"nice":false,"zero":false},"axis":{"values":[0,0.025,0.05,0.075],"labels":false,"title":null}}},
"layer":[
{"data":{"name":"cv"},"transform":[{"filter":"datum.p==63"},{"fold":["A","B","C","D"],"as":["s","y"]}],"mark":"line","encoding":{"stroke":{"field":"s","type":"nominal","scale":{"domain":["A","B","C","D"],"range":["#FFA500","#0000FF","#008000","#800080"]},"legend":null}}},
{"data":{"name":"pt"},"transform":[{"filter":"datum.p==63"}],"mark":"point"},
{"data":{"name":"tx"},"transform":[{"filter":"datum.p==63&&datum.t!=''"}],"mark":{"type":"text","fontStyle":"italic"},"encoding":{"text":{"field":"t"},"fill":{"field":"s","type":"nominal","scale":{"domain":["A","B","C","D","K"],"range":["#D99A2B","#1E1EC0","#2A5A2A","#4E1C50","#000000"]},"legend":null}}},
{"data":{"name":"tx"},"transform":[{"filter":"datum.p==63&&datum.t=='C'"}],"mark":{"type":"text","dx":13},"encoding":{"text":{"field":"u"},"fill":{"field":"s","type":"nominal","scale":{"domain":["A","B","C","D","K"],"range":["#D99A2B","#1E1EC0","#2A5A2A","#4E1C50","#000000"]},"legend":null}}},
{"data":{"name":"tx"},"transform":[{"filter":"datum.p==63&&datum.t=='Σ'"}],"mark":{"type":"text","dx":10},"encoding":{"text":{"field":"u"},"fill":{"field":"s","type":"nominal","scale":{"domain":["A","B","C","D","K"],"range":["#D99A2B","#1E1EC0","#2A5A2A","#4E1C50","#000000"]},"legend":null}}},
{"data":{"name":"tx"},"transform":[{"filter":"datum.p==63&&datum.t==''"}],"mark":{"type":"text","dx":8},"encoding":{"text":{"field":"u"},"fill":{"field":"s","type":"nominal","scale":{"domain":["A","B","C","D","K"],"range":["#D99A2B","#1E1EC0","#2A5A2A","#4E1C50","#000000"]},"legend":null}}}
]},
{"width":336,"height":127,"encoding":{"x":{"field":"x","type":"quantitative","scale":{"domain":[-1.1,25],"nice":false,"zero":false},"axis":{"values":[0,5,10,15,20,25],"title":"telomere length (kbp)"}},"y":{"field":"y","type":"quantitative","scale":{"domain":[-0.0044,0.092],"nice":false,"zero":false},"axis":{"values":[0,0.025,0.05,0.075],"title":"frequency","format":".3f"}}},
"layer":[
{"data":{"name":"cv"},"transform":[{"filter":"datum.p==74"},{"fold":["A","B","C","D"],"as":["s","y"]}],"mark":"line","encoding":{"stroke":{"field":"s","type":"nominal","scale":{"domain":["A","B","C","D"],"range":["#FFA500","#0000FF","#008000","#800080"]},"legend":null}}},
{"data":{"name":"pt"},"transform":[{"filter":"datum.p==74"}],"mark":"point"},
{"data":{"name":"tx"},"transform":[{"filter":"datum.p==74&&datum.t!=''"}],"mark":{"type":"text","fontStyle":"italic"},"encoding":{"text":{"field":"t"},"fill":{"field":"s","type":"nominal","scale":{"domain":["A","B","C","D","K"],"range":["#D99A2B","#1E1EC0","#2A5A2A","#4E1C50","#000000"]},"legend":null}}},
{"data":{"name":"tx"},"transform":[{"filter":"datum.p==74&&datum.t=='C'"}],"mark":{"type":"text","dx":13},"encoding":{"text":{"field":"u"},"fill":{"field":"s","type":"nominal","scale":{"domain":["A","B","C","D","K"],"range":["#D99A2B","#1E1EC0","#2A5A2A","#4E1C50","#000000"]},"legend":null}}},
{"data":{"name":"tx"},"transform":[{"filter":"datum.p==74&&datum.t=='Σ'"}],"mark":{"type":"text","dx":10},"encoding":{"text":{"field":"u"},"fill":{"field":"s","type":"nominal","scale":{"domain":["A","B","C","D","K"],"range":["#D99A2B","#1E1EC0","#2A5A2A","#4E1C50","#000000"]},"legend":null}}},
{"data":{"name":"tx"},"transform":[{"filter":"datum.p==74&&datum.t==''"}],"mark":{"type":"text","dx":8},"encoding":{"text":{"field":"u"},"fill":{"field":"s","type":"nominal","scale":{"domain":["A","B","C","D","K"],"range":["#D99A2B","#1E1EC0","#2A5A2A","#4E1C50","#000000"]},"legend":null}}}
]},
{"width":336,"height":127,"encoding":{"x":{"field":"x","type":"quantitative","scale":{"domain":[-1.1,25],"nice":false,"zero":false},"axis":{"values":[0,5,10,15,20,25],"title":"telomere length (kbp)"}},"y":{"field":"y","type":"quantitative","scale":{"domain":[-0.0044,0.092],"nice":false,"zero":false},"axis":{"values":[0,0.025,0.05,0.075],"labels":false,"title":null}}},
"layer":[
{"data":{"name":"cv"},"transform":[{"filter":"datum.p==75"},{"fold":["A","B","C","D"],"as":["s","y"]}],"mark":"line","encoding":{"stroke":{"field":"s","type":"nominal","scale":{"domain":["A","B","C","D"],"range":["#FFA500","#0000FF","#008000","#800080"]},"legend":null}}},
{"data":{"name":"pt"},"transform":[{"filter":"datum.p==75"}],"mark":"point"},
{"data":{"name":"tx"},"transform":[{"filter":"datum.p==75&&datum.t!=''"}],"mark":{"type":"text","fontStyle":"italic"},"encoding":{"text":{"field":"t"},"fill":{"field":"s","type":"nominal","scale":{"domain":["A","B","C","D","K"],"range":["#D99A2B","#1E1EC0","#2A5A2A","#4E1C50","#000000"]},"legend":null}}},
{"data":{"name":"tx"},"transform":[{"filter":"datum.p==75&&datum.t=='C'"}],"mark":{"type":"text","dx":13},"encoding":{"text":{"field":"u"},"fill":{"field":"s","type":"nominal","scale":{"domain":["A","B","C","D","K"],"range":["#D99A2B","#1E1EC0","#2A5A2A","#4E1C50","#000000"]},"legend":null}}},
{"data":{"name":"tx"},"transform":[{"filter":"datum.p==75&&datum.t=='Σ'"}],"mark":{"type":"text","dx":10},"encoding":{"text":{"field":"u"},"fill":{"field":"s","type":"nominal","scale":{"domain":["A","B","C","D","K"],"range":["#D99A2B","#1E1EC0","#2A5A2A","#4E1C50","#000000"]},"legend":null}}},
{"data":{"name":"tx"},"transform":[{"filter":"datum.p==75&&datum.t==''"}],"mark":{"type":"text","dx":8},"encoding":{"text":{"field":"u"},"fill":{"field":"s","type":"nominal","scale":{"domain":["A","B","C","D","K"],"range":["#D99A2B","#1E1EC0","#2A5A2A","#4E1C50","#000000"]},"legend":null}}}
]}
]}
